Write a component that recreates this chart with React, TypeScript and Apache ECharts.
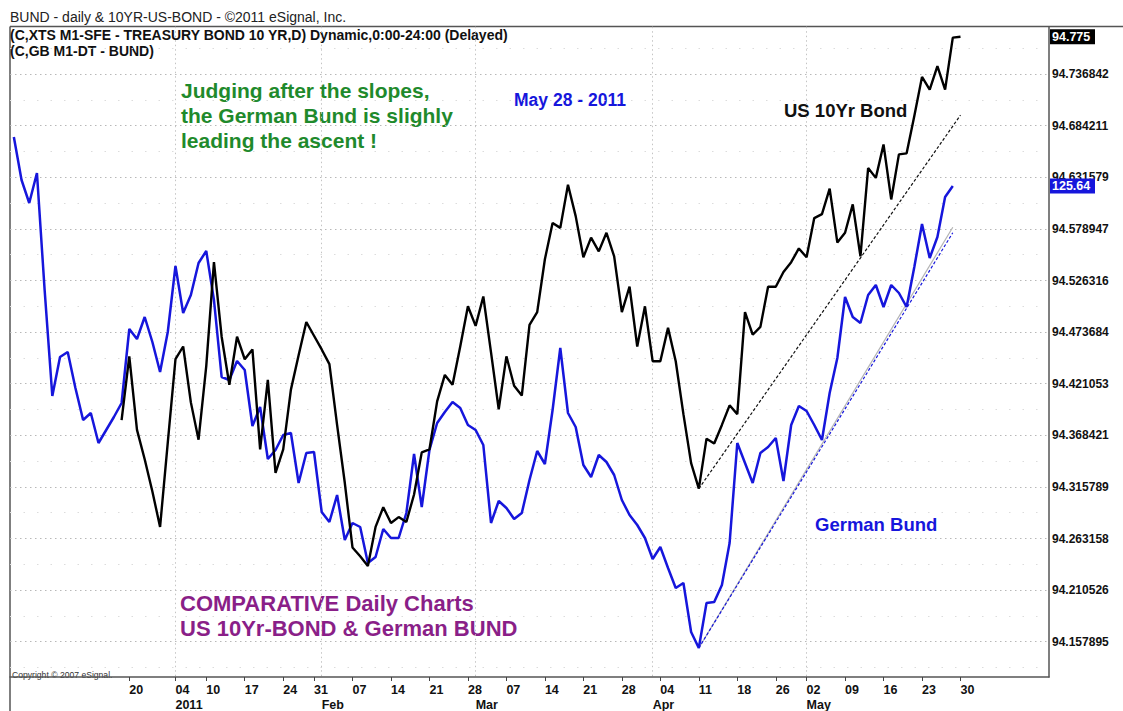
import React, { useEffect, useRef } from "react";
import * as echarts from "echarts";

const FONT = '"Liberation Sans", Arial, Helvetica, sans-serif';

// x axis: trading-day slots
const N_DAYS = 135;
const tickIndex = [15, 21, 25, 30, 35, 39, 44, 49, 54, 59, 64, 69, 74, 79, 84, 89, 94, 99, 103, 108, 113, 118, 123];
const tickLabels = ["20", "04", "10", "17", "24", "31", "07", "14", "21", "28", "07", "14", "21", "28", "04", "11", "18", "26", "02", "09", "16", "23", "30"];
const monthIndex = [21, 40, 60, 83, 103];
const monthLabels = ["2011", "Feb", "Mar", "Apr", "May"];

// right price scale (US 10Yr)
const yMin = 1788 / 19;
const yMax = 1801 / 19;
const yStep = 1 / 19;
// hidden Bund scale
const bundMin = 120.567;
const bundMax = 127.275;

// German Bund (blue), starts at slot 0
const bundStart = 0;
const bund = [
  126.13, 125.7, 125.47, 125.77, 124.6, 123.54, 123.93, 123.98, 123.62, 123.3,
  123.37, 123.07, 123.2, 123.33, 123.47, 124.21, 124.11, 124.33, 124.08, 123.78,
  124.18, 124.84, 124.37, 124.55, 124.87, 124.99, 124.5, 123.73, 123.7, 123.89,
  123.8, 123.24, 123.43, 122.91, 123.0, 123.15, 123.17, 122.67, 122.97, 122.98,
  122.38, 122.28, 122.55, 122.1, 122.27, 122.23, 121.87, 121.93, 122.21, 122.12,
  122.12, 122.37, 122.96, 122.43, 123.0, 123.27, 123.38, 123.48, 123.42, 123.25,
  123.2, 123.05, 122.27, 122.49, 122.42, 122.31, 122.37, 122.7, 122.99, 122.86,
  123.4, 124.02, 123.37, 123.23, 122.85, 122.73, 122.95, 122.88, 122.75, 122.5,
  122.35, 122.25, 122.12, 121.91, 122.03, 121.82, 121.62, 121.67, 121.18, 121.02,
  121.47, 121.48, 121.65, 122.07, 123.07, 122.87, 122.67, 122.97, 123.03, 123.12,
  122.69, 123.25, 123.44, 123.39, 123.25, 123.1, 123.57, 123.92, 124.53, 124.33,
  124.27, 124.55, 124.65, 124.43, 124.65, 124.57, 124.43, 124.83, 125.26, 124.92,
  125.13, 125.53, 125.64,
];

// US 10Yr Treasury Bond (black), starts at slot 14
const usStart = 14;
const usBond = [
  94.384, 94.449, 94.374, 94.344, 94.311, 94.275, 94.361, 94.446, 94.459, 94.402,
  94.364, 94.439, 94.545, 94.469, 94.42, 94.469, 94.446, 94.456, 94.354, 94.425,
  94.33, 94.354, 94.415, 94.45, 94.484, 94.47, 94.456, 94.441, 94.379, 94.32,
  94.254, 94.245, 94.235, 94.275, 94.295, 94.279, 94.285, 94.28, 94.308, 94.351,
  94.354, 94.403, 94.43, 94.42, 94.459, 94.5, 94.48, 94.51, 94.453, 94.395,
  94.449, 94.419, 94.409, 94.481, 94.494, 94.548, 94.585, 94.58, 94.624, 94.592,
  94.55, 94.57, 94.556, 94.575, 94.551, 94.494, 94.52, 94.459, 94.5, 94.444,
  94.444, 94.478, 94.444, 94.39, 94.34, 94.314, 94.365, 94.36, 94.379, 94.399,
  94.39, 94.494, 94.471, 94.479, 94.52, 94.52, 94.535, 94.545, 94.559, 94.55,
  94.59, 94.594, 94.62, 94.565, 94.575, 94.604, 94.551, 94.641, 94.631, 94.665,
  94.609, 94.655, 94.656, 94.694, 94.734, 94.721, 94.745, 94.721, 94.774, 94.775,
];

// trend lines [slot, value]
const usTrend = [[89, 94.314], [123, 94.695]];
const bundTrendSolid = [[89, 121.02], [122, 125.227]];
const bundTrendDash = [[89, 121.02], [122, 125.173]];

const BLUE = "#1616dc";
const GREEN = "#1f8a2c";
const PURPLE = "#8a1f88";

export default function App() {
  const ref = useRef<HTMLDivElement>(null);

  useEffect(() => {
    const el = ref.current as HTMLDivElement;
    const chart = echarts.init(el, null, { renderer: "svg" });

    const categories = Array.from({ length: N_DAYS }, (_, i) => String(i));
    const dayAt: Record<number, string> = {};
    tickIndex.forEach((idx, k) => (dayAt[idx] = tickLabels[k]));
    const monthAt: Record<number, string> = {};
    monthIndex.forEach((idx, k) => (monthAt[idx] = monthLabels[k]));

    const txt = (x: number, y: number, text: string, size: number, color: string, weight = "bold") => ({
      type: "text",
      x,
      y,
      silent: true,
      style: {
        text,
        fill: color,
        fontFamily: FONT,
        fontSize: size,
        fontWeight: weight,
        verticalAlign: "middle",
        align: "left",
      },
    });

    const baseGraphics: any[] = [
      { type: "line", shape: { x1: 10, y1: 26.5, x2: 1123, y2: 26.5 }, style: { stroke: "#555", lineWidth: 1.5 }, silent: true },
      { type: "line", shape: { x1: 10, y1: 26.5, x2: 10, y2: 711 }, style: { stroke: "#555", lineWidth: 1.5 }, silent: true },
      txt(10, 17, "BUND - daily & 10YR-US-BOND - \u00a92011 eSignal, Inc.", 14, "#222", "normal"),
      txt(10, 35, "(C,XTS M1-SFE - TREASURY BOND 10 YR,D) Dynamic,0:00-24:00 (Delayed)", 14, "#111"),
      txt(10, 51, "(C,GB M1-DT - BUND)", 14, "#111"),
      txt(181, 90, "Judging after the slopes,", 21, GREEN),
      txt(181, 115, "the German Bund is slighly", 21, GREEN),
      txt(181, 140, "leading the ascent !", 21, GREEN),
      txt(514, 100, "May 28 - 2011", 17.5, BLUE),
      txt(784, 110, "US 10Yr Bond", 18.5, "#111"),
      txt(815, 524, "German Bund", 18.5, BLUE),
      txt(180, 603, "COMPARATIVE Daily Charts", 22, PURPLE),
      txt(180, 628, "US 10Yr-BOND & German BUND", 22, PURPLE),
      txt(12, 675, "Copyright \u00a9 2007 eSignal.", 8.6, "#333", "normal"),
    ];

    const option: any = {
      animation: false,
      backgroundColor: "#ffffff",
      textStyle: { fontFamily: FONT },
      grid: [
        { left: 10, right: 74, top: 22.5, bottom: 17.7 },
        { left: 10, right: 74, top: 26.7, bottom: 29 },
      ],
      xAxis: [
        {
          type: "category",
          gridIndex: 0,
          data: categories,
          show: false,
          boundaryGap: true,
        },
        {
          type: "category",
          gridIndex: 1,
          data: categories,
          boundaryGap: true,
          axisLine: { show: true, lineStyle: { color: "#555", width: 1.5 } },
          axisTick: {
            show: true,
            alignWithLabel: true,
            length: 4,
            interval: (idx: number) => dayAt[idx] !== undefined,
            lineStyle: { color: "#444", width: 1 },
          },
          axisLabel: {
            show: true,
            interval: (idx: number) => dayAt[idx] !== undefined || monthAt[idx] !== undefined,
            align: "left",
            margin: 5,
            formatter: (_v: string, idx: number) => {
              const d = dayAt[idx];
              const m = monthAt[idx];
              if (d && m) return `{d|${d}}\n{m|${m}}`;
              if (d) return `{d|${d}}`;
              if (m) return `{d| }\n{m|${m}}`;
              return "";
            },
            rich: {
              d: { fontFamily: FONT, fontWeight: "bold", fontSize: 12.5, color: "#111", lineHeight: 15 },
              m: { fontFamily: FONT, fontWeight: "bold", fontSize: 12.5, color: "#111", lineHeight: 15 },
            },
          },
          splitLine: {
            show: true,
            alignWithLabel: true,
            interval: (idx: number) => monthAt[idx] !== undefined,
            lineStyle: { color: "#c4c4c4", width: 1, type: [1.5, 3] },
          },
        },
      ],
      yAxis: [
        {
          type: "value",
          gridIndex: 0,
          position: "right",
          min: yMin,
          max: yMax,
          interval: yStep,
          axisLine: { show: false },
          axisTick: { show: false },
          minorTick: { show: false, splitNumber: 2 },
          minorSplitLine: { show: true, lineStyle: { color: "#dcdcdc", width: 1, type: [1.5, 12] } },
          axisLabel: {
            show: true,
            margin: 3,
            showMinLabel: false,
            showMaxLabel: false,
            fontFamily: FONT,
            fontWeight: "bold",
            fontSize: 12,
            color: "#111",
            formatter: (v: number) => v.toFixed(6),
          },
          splitLine: {
            show: true,
            showMinLine: false,
            showMaxLine: false,
            lineStyle: { color: "#b8b8b8", width: 1, type: [1.5, 3.5] },
          },
        },
        {
          type: "value",
          gridIndex: 0,
          position: "left",
          min: bundMin,
          max: bundMax,
          show: false,
          splitLine: { show: false },
        },
        {
          type: "value",
          gridIndex: 1,
          position: "right",
          min: 0,
          max: 1,
          axisLine: { show: true, lineStyle: { color: "#555", width: 1.5 } },
          axisTick: { show: false },
          axisLabel: { show: false },
          splitLine: { show: false },
        },
      ],
      series: [
        {
          name: "German Bund",
          type: "line",
          xAxisIndex: 0,
          yAxisIndex: 1,
          data: bund.map((v, i) => [bundStart + i, v]),
          showSymbol: false,
          symbol: "none",
          lineStyle: { color: BLUE, width: 2.5 },
          z: 3,
        },
        {
          name: "US 10Yr Bond",
          type: "line",
          xAxisIndex: 0,
          yAxisIndex: 0,
          data: usBond.map((v, i) => [usStart + i, v]),
          showSymbol: false,
          symbol: "none",
          lineStyle: { color: "#000", width: 2.4 },
          z: 4,
        },
        {
          name: "US trend",
          type: "line",
          xAxisIndex: 0,
          yAxisIndex: 0,
          data: usTrend,
          showSymbol: false,
          symbol: "none",
          lineStyle: { color: "#111", width: 1.2, type: [3, 2] },
          z: 5,
        },
        {
          name: "Bund trend solid",
          type: "line",
          xAxisIndex: 0,
          yAxisIndex: 1,
          data: bundTrendSolid,
          showSymbol: false,
          symbol: "none",
          lineStyle: { color: "#b4b4b4", width: 1.2 },
          z: 2,
        },
        {
          name: "Bund trend dashed",
          type: "line",
          xAxisIndex: 0,
          yAxisIndex: 1,
          data: bundTrendDash,
          showSymbol: false,
          symbol: "none",
          lineStyle: { color: BLUE, width: 1.2, type: [3, 2] },
          z: 5,
        },
      ],
      graphic: baseGraphics,
    };

    chart.setOption(option);

    const usLast = usBond[usBond.length - 1];
    const bundLast = bund[bund.length - 1];
    const yUs = chart.convertToPixel({ yAxisIndex: 0 } as any, usLast) as number;
    const yBund = chart.convertToPixel({ yAxisIndex: 1 } as any, bundLast) as number;

    const tag = (y: number, text: string, bg: string) => [
      { type: "rect", shape: { x: 1050, y: y - 7.5, width: 45, height: 15 }, style: { fill: bg }, silent: true, z: 10 },
      {
        type: "text",
        x: 1052,
        y,
        z: 11,
        silent: true,
        style: { text, fill: "#fff", fontFamily: FONT, fontWeight: "bold", fontSize: 12.5, verticalAlign: "middle", align: "left" },
      },
    ];

    chart.setOption({
      graphic: [...baseGraphics, ...tag(yUs, String(usLast), "#000"), ...tag(yBund, String(bundLast), BLUE)],
    });

    return () => chart.dispose();
  }, []);

  return (
    <div
      ref={ref}
      style={{ position: "fixed", left: 0, top: 0, width: 1123, height: 711, background: "#fff" }}
    />
  );
}
